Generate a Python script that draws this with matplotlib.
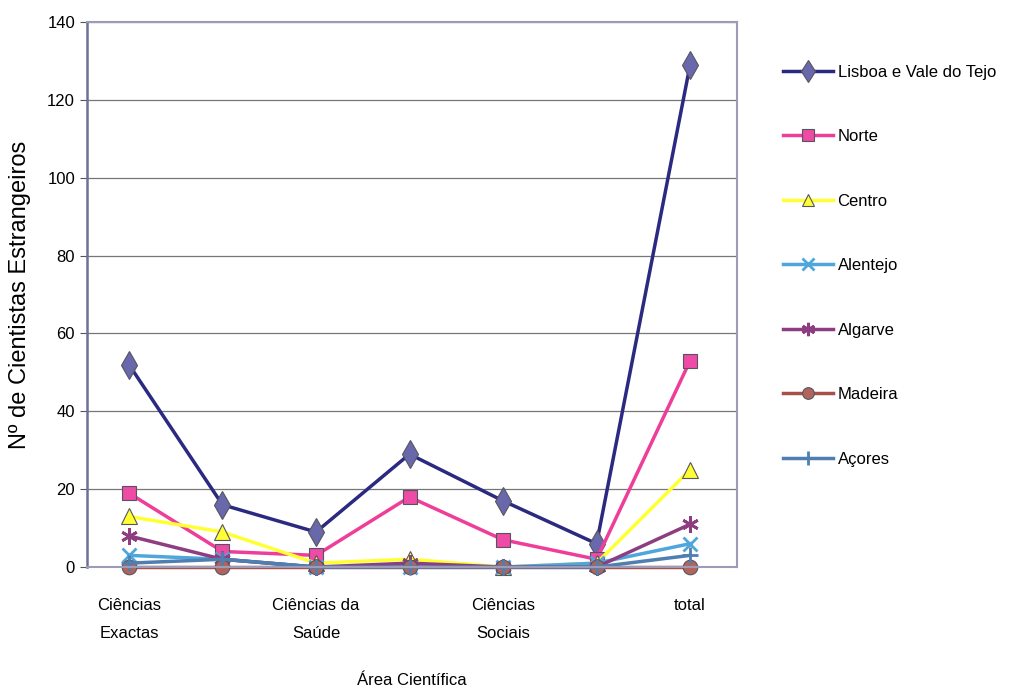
import numpy as np
import matplotlib.pyplot as plt

plt.rcParams['font.family'] = ['Liberation Sans', 'DejaVu Sans']

# Categories on the x axis (only every other one is labelled in the chart)
categories = ["Ciências\nExactas", "", "Ciências da\nSaúde", "", "Ciências\nSociais", "", "total"]

# Number of foreign scientists per region
lisboa = [52, 16, 9, 29, 17, 6, 129]
norte = [19, 4, 3, 18, 7, 2, 53]
centro = [13, 9, 1, 2, 0, 1, 25]
alentejo = [3, 2, 0, 0, 0, 1, 6]
algarve = [8, 2, 0, 1, 0, 0, 11]
madeira = [0, 0, 0, 0, 0, 0, 0]
acores = [1, 2, 0, 0, 0, 0, 3]

regions = ["Lisboa e Vale do Tejo", "Norte", "Centro", "Alentejo", "Algarve", "Madeira", "Açores"]
series = [lisboa, norte, centro, alentejo, algarve, madeira, acores]

# style per series: line colour, marker colour, marker, marker size
styles = [
    ("#2B2A80", "#6A68AC", "d", 14),
    ("#EE3E9A", "#EE4AA6", "s", 10),
    ("#FFFF33", "#FFFF33", "^", 11),
    ("#4EA6DC", "#4EA6DC", "x", 10),
    ("#8E3D80", "#8E3D80", (6, 2, 0), 12),
    ("#A5504A", "#B2645C", "o", 10.5),
    ("#4F7FB0", "#4F7FB0", "+", 12),
]
stroke_markers = ("x", "+", (6, 2, 0))

fig = plt.figure(figsize=(10.22, 6.89), dpi=100)
ax = fig.add_axes([0.085, 0.177, 0.636, 0.791])

x = np.arange(len(categories))
for name, vals, (lc, mc, mk, ms) in zip(regions, series, styles):
    stroke = mk in stroke_markers
    ax.plot(x, vals, color=lc, linewidth=2.5, marker=mk, markersize=ms,
            markerfacecolor=mc, markeredgecolor=lc if stroke else "#55555f",
            markeredgewidth=2 if stroke else 0.8,
            label=name, clip_on=False)

ax.set_xlim(-0.45, 6.5)
ax.set_ylim(0, 140)
ax.set_yticks(np.arange(0, 141, 20))
ax.set_xticks(x)
ax.set_xticklabels(categories, fontsize=12, linespacing=2.1)
ax.tick_params(axis='x', length=0, pad=22)
ax.tick_params(axis='y', labelsize=12, length=5, color="#555555")
ax.yaxis.grid(True, color="#777777", linewidth=0.9)
ax.set_axisbelow(True)

for side in ["top", "right", "bottom"]:
    ax.spines[side].set_color("#9C9CB8")
    ax.spines[side].set_linewidth(1.5)
ax.spines["left"].set_color("#6E6E9A")
ax.spines["left"].set_linewidth(1.8)

ax.set_xlabel("Área Científica", fontsize=12, labelpad=23)
ax.set_ylabel("Nº de Cientistas Estrangeiros", fontsize=17, labelpad=12)

fig.legend(loc="upper left", bbox_to_anchor=(0.751, 0.928), frameon=False,
           fontsize=12, handlelength=3.0, handletextpad=0.3, labelspacing=2.97,
           markerscale=0.8)

fig.savefig("out.png", dpi=100)
